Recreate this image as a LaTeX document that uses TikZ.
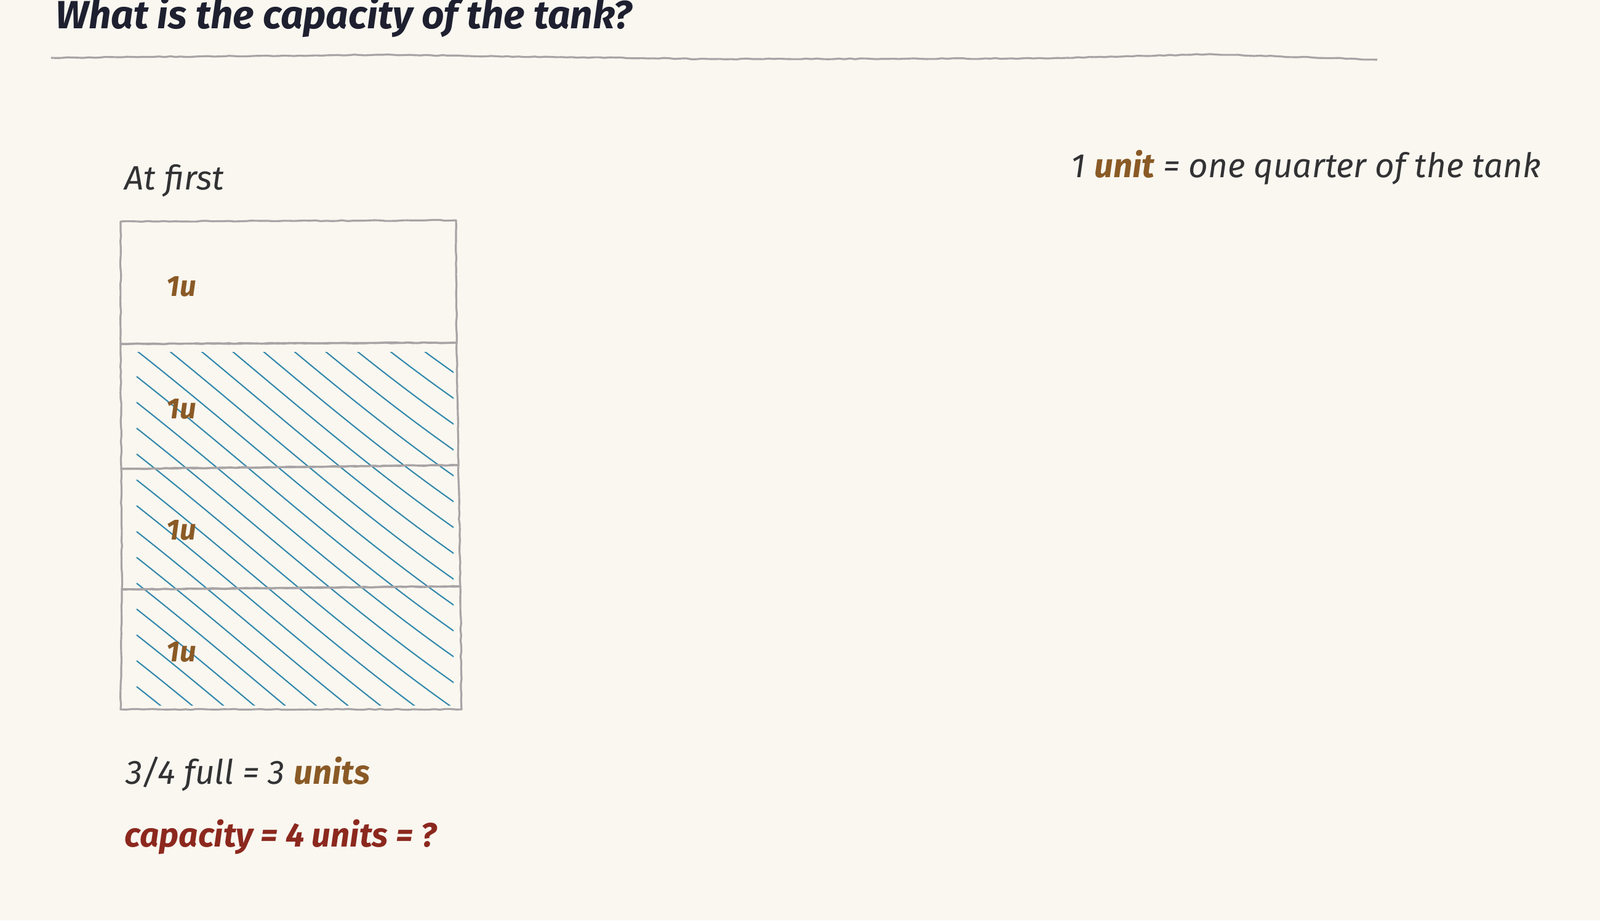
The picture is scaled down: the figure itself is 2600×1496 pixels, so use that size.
\documentclass[tikz,border=0pt]{standalone}
\usepackage{fontspec}
\setmainfont{Fira Sans}
\usepackage{tikz}
\usetikzlibrary{decorations.pathmorphing}
\definecolor{paper}{RGB}{249,247,240}
\definecolor{navy}{RGB}{30,32,48}
\definecolor{ink}{RGB}{50,50,52}
\definecolor{unitbrown}{RGB}{138,90,38}
\definecolor{answerred}{RGB}{140,40,30}
\definecolor{pencil}{RGB}{168,163,165}
\definecolor{water}{RGB}{52,136,172}
\newcommand{\drawpencil}{\draw[line width=0.9pt, pencil, line join=round,
  decorate, decoration={random steps, segment length=2.5pt, amplitude=0.2pt}]}
\newcommand{\unitlabel}[2]{\node[unitfont] (#1) at (270,#2) {1u};}
\tikzset{
  body/.style={inner sep=0, anchor=base west, text=ink,
    font=\fontsize{15.6}{19}\selectfont\itshape},
  unitfont/.style={inner sep=0, anchor=base west, text=unitbrown,
    font=\fontsize{13.5}{16}\selectfont\itshape\bfseries},
  hatchline/.style={water, line width=0.6pt}
}

\begin{document}
\begin{tikzpicture}[x=0.01cm, y=-0.01cm]
\fill[paper] (0,0) rectangle (2600,1496);
\useasboundingbox (0,0) rectangle (2600,1496);
\node[body, text=navy, font=\fontsize{18.2}{22}\selectfont\itshape\bfseries] (title) at (90,46) {What is the capacity of the tank?};
\drawpencil (83,94) -- (622,89) -- (1161,96) -- (1699,95) -- (1968,88) -- (2238,97);
\node[body] (atfirst) at (202,308) {At first};
\node[body] (unitdef) at (1740,288) {1 \textcolor{unitbrown}{\bfseries unit} = one quarter of the tank};
\begin{scope}
  \clip (220,572) rectangle (737,1146);
  \foreach \c in {150,192,...,1150}{
    \draw[hatchline] (222,\c) .. controls (400,\c+140) and (560,\c+290) .. (748,\c+421);
  }
\end{scope}
\drawpencil (196,360) -- (741,358) -- (742,557) -- (196,559) -- cycle;
\drawpencil (196,559) -- (742,557) -- (745,756) -- (197,762) -- cycle;
\drawpencil (197,762) -- (745,756) -- (748,953) -- (198,958) -- cycle;
\drawpencil (198,958) -- (748,953) -- (750,1153) -- (196,1153) -- cycle;
\unitlabel{u1}{481}
\unitlabel{u2}{680}
\unitlabel{u3}{877}
\unitlabel{u4}{1075}
\node[body] (full) at (204,1274) {3/4 full = 3 \textcolor{unitbrown}{\bfseries units}};
\node[body, text=answerred, font=\fontsize{15.6}{19}\selectfont\itshape\bfseries] (capacity) at (202,1376) {capacity = 4 units = ?};
\end{tikzpicture}
\end{document}
